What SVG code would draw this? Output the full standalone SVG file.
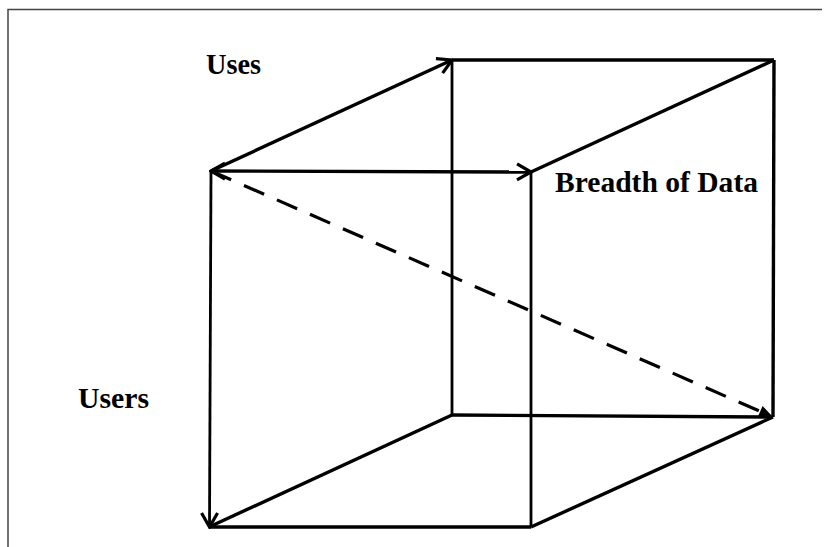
<svg xmlns="http://www.w3.org/2000/svg" width="824" height="547" viewBox="0 0 824 547">
  <style>
    .edge { stroke: #000; stroke-width: 3.4; fill: none; stroke-linecap: butt; }
    .thin { stroke: #000; stroke-width: 2.8; fill: none; }
    .dash { stroke: #000; stroke-width: 3.2; fill: none; stroke-dasharray: 22 14; }
    .label { font-family: "Liberation Serif", "Times New Roman", serif; font-weight: bold; font-size: 29px; fill: #000; }
    .frame { stroke: #444; stroke-width: 1.5; fill: none; }
  </style>
  <defs>
    <marker id="open" viewBox="-18 -11 20 22" markerWidth="20" markerHeight="22" refX="0" refY="0" orient="auto-start-reverse" markerUnits="userSpaceOnUse">
      <path d="M -14 -8 L 0 0 L -14 8" stroke="#000" stroke-width="3.2" fill="none"/>
    </marker>
    <marker id="solid" viewBox="-16 -8 18 16" markerWidth="18" markerHeight="16" refX="0" refY="0" orient="auto" markerUnits="userSpaceOnUse">
      <path d="M -14 -6 L 0 0 L -14 6 Z" fill="#000"/>
    </marker>
  </defs>

  <rect x="0" y="0" width="824" height="547" fill="#fff"/>
  <path class="frame" d="M 8 547 L 8 9.5 L 822 9.5"/>

  <g id="connectors">
    <!-- back face -->
    <line class="edge" x1="452" y1="60" x2="774" y2="60"/>
    <line class="thin" x1="452" y1="60" x2="452" y2="415"/>
    <line class="edge" x1="774" y1="60" x2="773" y2="417"/>
    <line class="edge" x1="452" y1="415" x2="773" y2="417"/>
    <!-- depth edges -->
    <line class="edge" x1="211" y1="171" x2="452" y2="60" marker-end="url(#open)"/>
    <line class="edge" x1="531" y1="172" x2="774" y2="60"/>
    <line class="edge" x1="209" y1="527" x2="452" y2="415"/>
    <line class="edge" x1="531" y1="527" x2="773" y2="417"/>
    <!-- front face -->
    <line class="edge" x1="211" y1="171" x2="531" y2="172" marker-start="url(#open)" marker-end="url(#open)"/>
    <line class="thin" x1="531" y1="172" x2="531" y2="527"/>
    <line class="edge" x1="209" y1="527" x2="531" y2="527"/>
    <line class="thin" x1="211" y1="171" x2="209.5" y2="527" marker-end="url(#open)"/>
    <!-- diagonal -->
    <line class="dash" x1="211" y1="171" x2="773" y2="417" marker-end="url(#solid)"/>
  </g>

  <g id="label-uses">
    <text class="label" x="206" y="74" textLength="55" lengthAdjust="spacingAndGlyphs">Uses</text>
  </g>
  <g id="label-users">
    <text class="label" x="78" y="408" textLength="71" lengthAdjust="spacingAndGlyphs">Users</text>
  </g>
  <g id="label-breadth">
    <text class="label" x="555" y="192" textLength="203" lengthAdjust="spacingAndGlyphs">Breadth of Data</text>
  </g>
</svg>
